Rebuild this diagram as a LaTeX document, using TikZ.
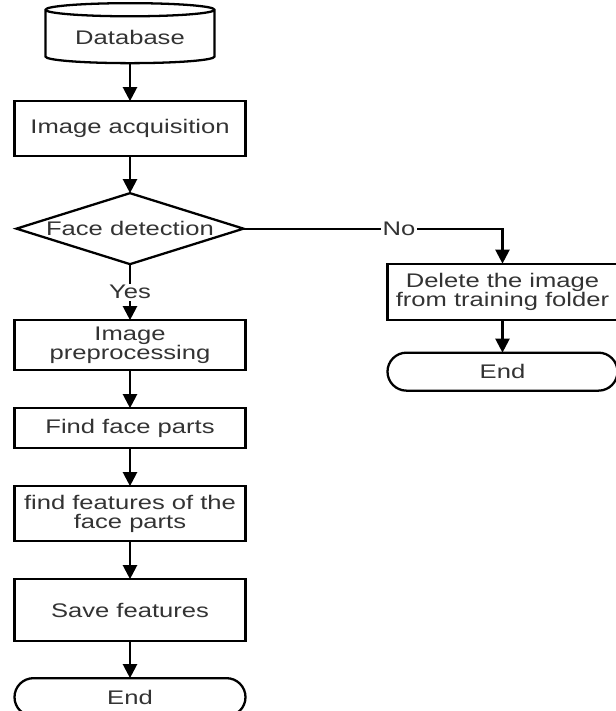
\documentclass[tikz,border=0pt]{standalone}
\usepackage{fontspec}
\setmainfont[FakeStretch=1.3]{Liberation Sans}
\usetikzlibrary{positioning,shapes.geometric,arrows.meta}

\begin{document}
\begin{tikzpicture}[
box/.style={draw,rectangle,line width=1.3pt,minimum width=4.62cm,inner sep=0pt,outer sep=0pt,align=center,
    text=black!80,font=\fontsize{11.2}{10.7}\selectfont},
decision/.style={box,diamond,aspect=3.2,minimum width=4.54cm,minimum height=1.42cm},
store/.style={box,cylinder,shape border rotate=90,aspect=0.12,minimum width=3.38cm,minimum height=1.2cm},
terminal/.style={box,rounded corners=0.38cm,minimum height=0.76cm},
arr/.style={line width=1.3pt,-{Triangle[width=0.28cm,length=0.28cm]}},
lab/.style={fill=white,inner sep=1pt,text=black!80,font=\fontsize{11.2}{10.7}\selectfont}]
\useasboundingbox (0,0) rectangle (12.32,-14.22);
\node (db) [store] at (2.6,-0.74) {Database};
\node (acq) [box,minimum height=1.1cm,below=0.76cm of db] {Image acquisition};
\node (det) [decision,below=0.74cm of acq] {Face detection};
\node (prep) [box,minimum height=1.0cm,below=1.12cm of det] {Image\\preprocessing};
\node (parts) [box,minimum height=0.8cm,below=0.76cm of prep] {Find face parts};
\node (feat) [box,minimum height=1.1cm,below=0.76cm of parts] {find features of the\\face parts};
\node (save) [box,minimum height=1.24cm,below=0.76cm of feat] {Save features};
\node (end1) [terminal,below=0.74cm of save] {End};

% no-branch
\node (del) [box,minimum width=4.6cm,minimum height=1.12cm,
    below right=0.7cm and 2.88cm of det.east] {Delete the image\\from training folder};
\node (end2) [terminal,minimum width=4.6cm,below=0.66cm of del] {End};

\draw[arr] (db) -- (acq);
\draw[arr] (acq) -- (det);
\draw[arr] (det) -- node[lab] {Yes} (prep);
\draw[arr] (prep) -- (parts);
\draw[arr] (parts) -- (feat);
\draw[arr] (feat) -- (save);
\draw[arr] (save) -- (end1);
\draw[arr] (det) -| node[lab,pos=0.3] {No} (del);
\draw[arr] (del) -- (end2);
\end{tikzpicture}
\end{document}
